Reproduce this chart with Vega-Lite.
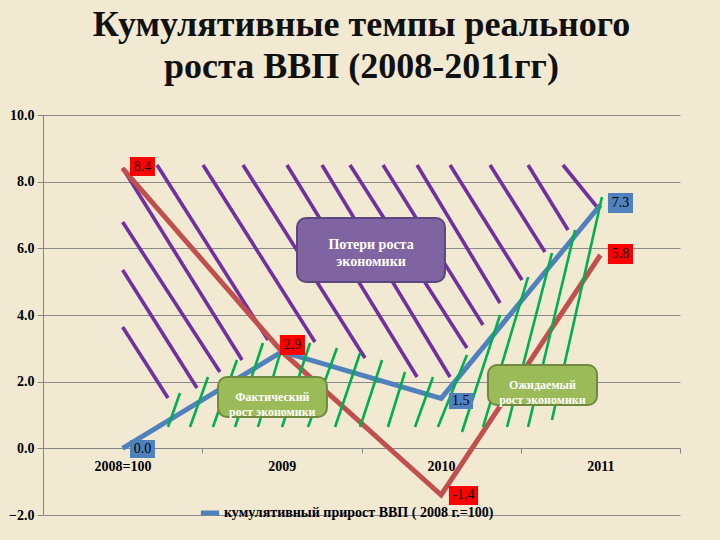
{
  "$schema": "https://vega.github.io/schema/vega-lite/v6.json",
  "width": 637,
  "height": 400,
  "autosize": "none",
  "padding": {"left": 43, "top": 115, "right": 40, "bottom": 25},
  "background": "#f2e9d2",
  "title": {
    "text": ["Кумулятивные темпы реального", "роста ВВП (2008-2011гг)"],
    "font": "Liberation Serif",
    "fontSize": 36,
    "fontWeight": "bold",
    "color": "#111111",
    "anchor": "middle",
    "lineHeight": 42,
    "offset": 22
  },
  "datasets": {
    "blue": [
      {"x": 0, "y": 0.0, "s": "кумулятивный прирост ВВП ( 2008 г.=100)"},
      {"x": 1, "y": 2.9, "s": "кумулятивный прирост ВВП ( 2008 г.=100)"},
      {"x": 2, "y": 1.5, "s": "кумулятивный прирост ВВП ( 2008 г.=100)"},
      {"x": 3, "y": 7.3, "s": "кумулятивный прирост ВВП ( 2008 г.=100)"}
    ],
    "red": [
      {"x": 0, "y": 8.4},
      {"x": 1, "y": 2.9},
      {"x": 2, "y": -1.4},
      {"x": 3, "y": 5.8}
    ],
    "purple": [
      {"x": 0.0, "y": 3.64, "x2": 0.285, "y2": 1.51},
      {"x": 0.0, "y": 5.35, "x2": 0.467, "y2": 1.81},
      {"x": 0.0, "y": 6.79, "x2": 0.611, "y2": 2.29},
      {"x": 0.0, "y": 8.41, "x2": 0.75, "y2": 2.65},
      {"x": 0.216, "y": 8.5, "x2": 0.913, "y2": 3.25},
      {"x": 0.505, "y": 8.5, "x2": 1.208, "y2": 3.19},
      {"x": 0.756, "y": 8.5, "x2": 1.522, "y2": 2.71},
      {"x": 1.032, "y": 8.5, "x2": 1.849, "y2": 2.14},
      {"x": 1.252, "y": 8.5, "x2": 2.056, "y2": 2.14},
      {"x": 1.428, "y": 8.5, "x2": 2.162, "y2": 3.01},
      {"x": 1.635, "y": 8.5, "x2": 2.263, "y2": 3.7},
      {"x": 1.849, "y": 8.5, "x2": 2.37, "y2": 4.36},
      {"x": 2.056, "y": 8.5, "x2": 2.508, "y2": 5.05},
      {"x": 2.307, "y": 8.5, "x2": 2.652, "y2": 5.89},
      {"x": 2.546, "y": 8.5, "x2": 2.797, "y2": 6.55},
      {"x": 2.765, "y": 8.5, "x2": 2.979, "y2": 7.24}
    ],
    "green": [
      {"x": 0.285, "y": 0.64, "x2": 0.36, "y2": 1.66},
      {"x": 0.423, "y": 0.64, "x2": 0.536, "y2": 2.14},
      {"x": 0.567, "y": 0.64, "x2": 0.718, "y2": 2.65},
      {"x": 0.706, "y": 0.64, "x2": 0.881, "y2": 3.16},
      {"x": 0.85, "y": 0.64, "x2": 1.02, "y2": 3.34},
      {"x": 1.001, "y": 0.64, "x2": 1.177, "y2": 3.16},
      {"x": 1.164, "y": 0.64, "x2": 1.346, "y2": 3.01},
      {"x": 1.334, "y": 0.64, "x2": 1.491, "y2": 2.86},
      {"x": 1.491, "y": 0.64, "x2": 1.629, "y2": 2.65},
      {"x": 1.666, "y": 0.64, "x2": 1.773, "y2": 2.29},
      {"x": 1.836, "y": 0.64, "x2": 1.949, "y2": 2.14},
      {"x": 1.98, "y": 0.64, "x2": 2.162, "y2": 2.8},
      {"x": 2.131, "y": 0.49, "x2": 2.37, "y2": 4.0},
      {"x": 2.263, "y": 0.64, "x2": 2.546, "y2": 5.14},
      {"x": 2.414, "y": 0.64, "x2": 2.696, "y2": 5.86},
      {"x": 2.546, "y": 0.64, "x2": 2.841, "y2": 6.55},
      {"x": 2.696, "y": 0.85, "x2": 3.01, "y2": 7.54}
    ],
    "boxes": [
      {"x": 1.095, "x2": 2.024, "y": 6.91, "y2": 4.99, "tx": 1.56, "ty": 6.1, "k": "p", "t": ["Потери роста", "экономики"]},
      {"x": 0.599, "x2": 1.283, "y": 2.14, "y2": 0.94, "tx": 0.94, "ty": 1.54, "k": "g", "t": ["Фактический", "рост экономики"]},
      {"x": 2.294, "x2": 2.979, "y": 2.5, "y2": 1.3, "tx": 2.636, "ty": 1.9, "k": "g", "t": ["Ожидаемый", "рост экономики"]}
    ],
    "labels": [
      {"x": 0.046, "x2": 0.203, "y": 8.74, "y2": 8.17, "tx": 0.125, "ty": 8.45, "k": "r", "t": "8.4"},
      {"x": 3.048, "x2": 3.205, "y": 7.66, "y2": 7.06, "tx": 3.127, "ty": 7.36, "k": "b", "t": "7.3"},
      {"x": 3.048, "x2": 3.205, "y": 6.13, "y2": 5.53, "tx": 3.127, "ty": 5.83, "k": "r", "t": "5.8"},
      {"x": 0.988, "x2": 1.145, "y": 3.4, "y2": 2.8, "tx": 1.066, "ty": 3.1, "k": "r", "t": "2.9"},
      {"x": 2.049, "x2": 2.2, "y": 1.66, "y2": 1.18, "tx": 2.124, "ty": 1.42, "k": "b", "t": "1.5"},
      {"x": 0.046, "x2": 0.203, "y": 0.25, "y2": -0.29, "tx": 0.125, "ty": -0.02, "k": "b", "t": "0.0"},
      {"x": 2.049, "x2": 2.232, "y": -1.13, "y2": -1.7, "tx": 2.14, "ty": -1.41, "k": "r", "t": "-1.4"}
    ]
  },
  "layer": [
    {
      "data": {"name": "purple"},
      "mark": {"type": "rule", "color": "#7030a0", "strokeWidth": 3.6},
      "encoding": {
        "x": {
          "field": "x", "type": "quantitative", "title": null,
          "scale": {"domain": [-0.5, 3.5], "nice": false, "zero": false},
          "axis": {
            "values": [-0.5, 0.5, 1.5, 2.5, 3.5],
            "labelExpr": "datum.value < 0 ? '2008=100' : datum.value < 1 ? '2009' : datum.value < 2 ? '2010' : datum.value < 3 ? '2011' : ''",
            "labelOffset": 79.6,
            "offset": -67,
            "grid": false,
            "domainColor": "#868686",
            "tickColor": "#868686",
            "tickSize": 5,
            "labelPadding": 6,
            "labelFont": "Liberation Serif",
            "labelFontSize": 14,
            "labelFontWeight": "bold",
            "labelColor": "#000000",
            "labelOverlap": false,
            "labelBound": false,
            "labelFlush": false
          }
        },
        "y": {
          "field": "y", "type": "quantitative", "title": null,
          "scale": {"domain": [-2, 10], "nice": false, "zero": false},
          "axis": {
            "values": [-2, 0, 2, 4, 6, 8, 10],
            "format": ".1f",
            "grid": true,
            "gridColor": "#8a8a8a",
            "gridWidth": 1,
            "domainColor": "#868686",
            "tickColor": "#868686",
            "tickSize": 6,
            "labelPadding": 3,
            "labelFont": "Liberation Serif",
            "labelFontSize": 14,
            "labelFontWeight": "bold",
            "labelColor": "#000000"
          }
        },
        "x2": {"field": "x2"},
        "y2": {"field": "y2"}
      }
    },
    {
      "data": {"name": "red"},
      "mark": {"type": "line", "color": "#c0504d", "strokeWidth": 5},
      "encoding": {
        "x": {"field": "x", "type": "quantitative", "title": null},
        "y": {"field": "y", "type": "quantitative", "title": null}
      }
    },
    {
      "data": {"name": "blue"},
      "mark": {"type": "line", "strokeWidth": 5},
      "encoding": {
        "x": {"field": "x", "type": "quantitative", "title": null},
        "y": {"field": "y", "type": "quantitative", "title": null},
        "color": {
          "field": "s", "type": "nominal",
          "scale": {"range": ["#4f81bd"]},
          "legend": {
            "title": null,
            "orient": "none",
            "legendX": 155,
            "legendY": 386,
            "padding": 0,
            "symbolType": "stroke",
            "symbolStrokeWidth": 5,
            "symbolSize": 330,
            "labelFont": "Liberation Serif",
            "labelFontSize": 14,
            "labelFontWeight": "bold",
            "labelColor": "#000000",
            "labelLimit": 400,
            "labelOffset": 2
          }
        }
      }
    },
    {
      "data": {"name": "green"},
      "mark": {"type": "rule", "color": "#00b050", "strokeWidth": 2.6},
      "encoding": {
        "x": {"field": "x", "type": "quantitative", "title": null},
        "y": {"field": "y", "type": "quantitative", "title": null},
        "x2": {"field": "x2"},
        "y2": {"field": "y2"}
      }
    },
    {
      "mark": {"type": "rule", "color": "#4f81bd", "strokeWidth": 3, "strokeDash": [9, 7]},
      "encoding": {
        "x": {"datum": 0, "type": "quantitative"},
        "y": {"datum": 0, "type": "quantitative"},
        "y2": {"datum": 8.55}
      }
    },
    {
      "mark": {"type": "rule", "color": "#e3141c", "strokeWidth": 3.5},
      "encoding": {
        "x": {"datum": -0.5, "type": "quantitative"},
        "x2": {"datum": 3.545},
        "y": {"datum": 8.5, "type": "quantitative"}
      }
    },
    {
      "data": {"name": "boxes"},
      "mark": {"type": "rect", "cornerRadius": 9, "strokeWidth": 2},
      "encoding": {
        "x": {"field": "x", "type": "quantitative", "title": null},
        "x2": {"field": "x2"},
        "y": {"field": "y", "type": "quantitative", "title": null},
        "y2": {"field": "y2"},
        "fill": {
          "field": "k", "type": "nominal", "legend": null,
          "scale": {"domain": ["r", "b", "p", "g"], "range": ["#ff0000", "#4f81bd", "#8064a2", "#9bbb59"]}
        },
        "stroke": {
          "field": "k", "type": "nominal", "legend": null,
          "scale": {"domain": ["p", "g"], "range": ["#5c4780", "#71893f"]}
        }
      }
    },
    {
      "data": {"name": "boxes"},
      "transform": [{"filter": "datum.k == 'p'"}],
      "mark": {"type": "text", "font": "Liberation Serif", "fontSize": 14, "fontWeight": "bold", "color": "#ffffff", "lineHeight": 17, "baseline": "middle"},
      "encoding": {
        "x": {"field": "tx", "type": "quantitative", "title": null},
        "y": {"field": "ty", "type": "quantitative", "title": null},
        "text": {"field": "t"}
      }
    },
    {
      "data": {"name": "boxes"},
      "transform": [{"filter": "datum.k == 'g'"}],
      "mark": {"type": "text", "font": "Liberation Serif", "fontSize": 12, "fontWeight": "bold", "color": "#ffffff", "lineHeight": 15, "baseline": "middle"},
      "encoding": {
        "x": {"field": "tx", "type": "quantitative", "title": null},
        "y": {"field": "ty", "type": "quantitative", "title": null},
        "text": {"field": "t"}
      }
    },
    {
      "data": {"name": "labels"},
      "mark": {"type": "rect"},
      "encoding": {
        "x": {"field": "x", "type": "quantitative", "title": null},
        "x2": {"field": "x2"},
        "y": {"field": "y", "type": "quantitative", "title": null},
        "y2": {"field": "y2"},
        "fill": {"field": "k", "type": "nominal", "legend": null}
      }
    },
    {
      "data": {"name": "labels"},
      "mark": {"type": "text", "font": "Liberation Serif", "fontSize": 14, "color": "#000000", "baseline": "middle"},
      "encoding": {
        "x": {"field": "tx", "type": "quantitative", "title": null},
        "y": {"field": "ty", "type": "quantitative", "title": null},
        "text": {"field": "t"}
      }
    }
  ],
  "config": {
    "view": {"stroke": null},
    "font": "Liberation Serif"
  }
}
